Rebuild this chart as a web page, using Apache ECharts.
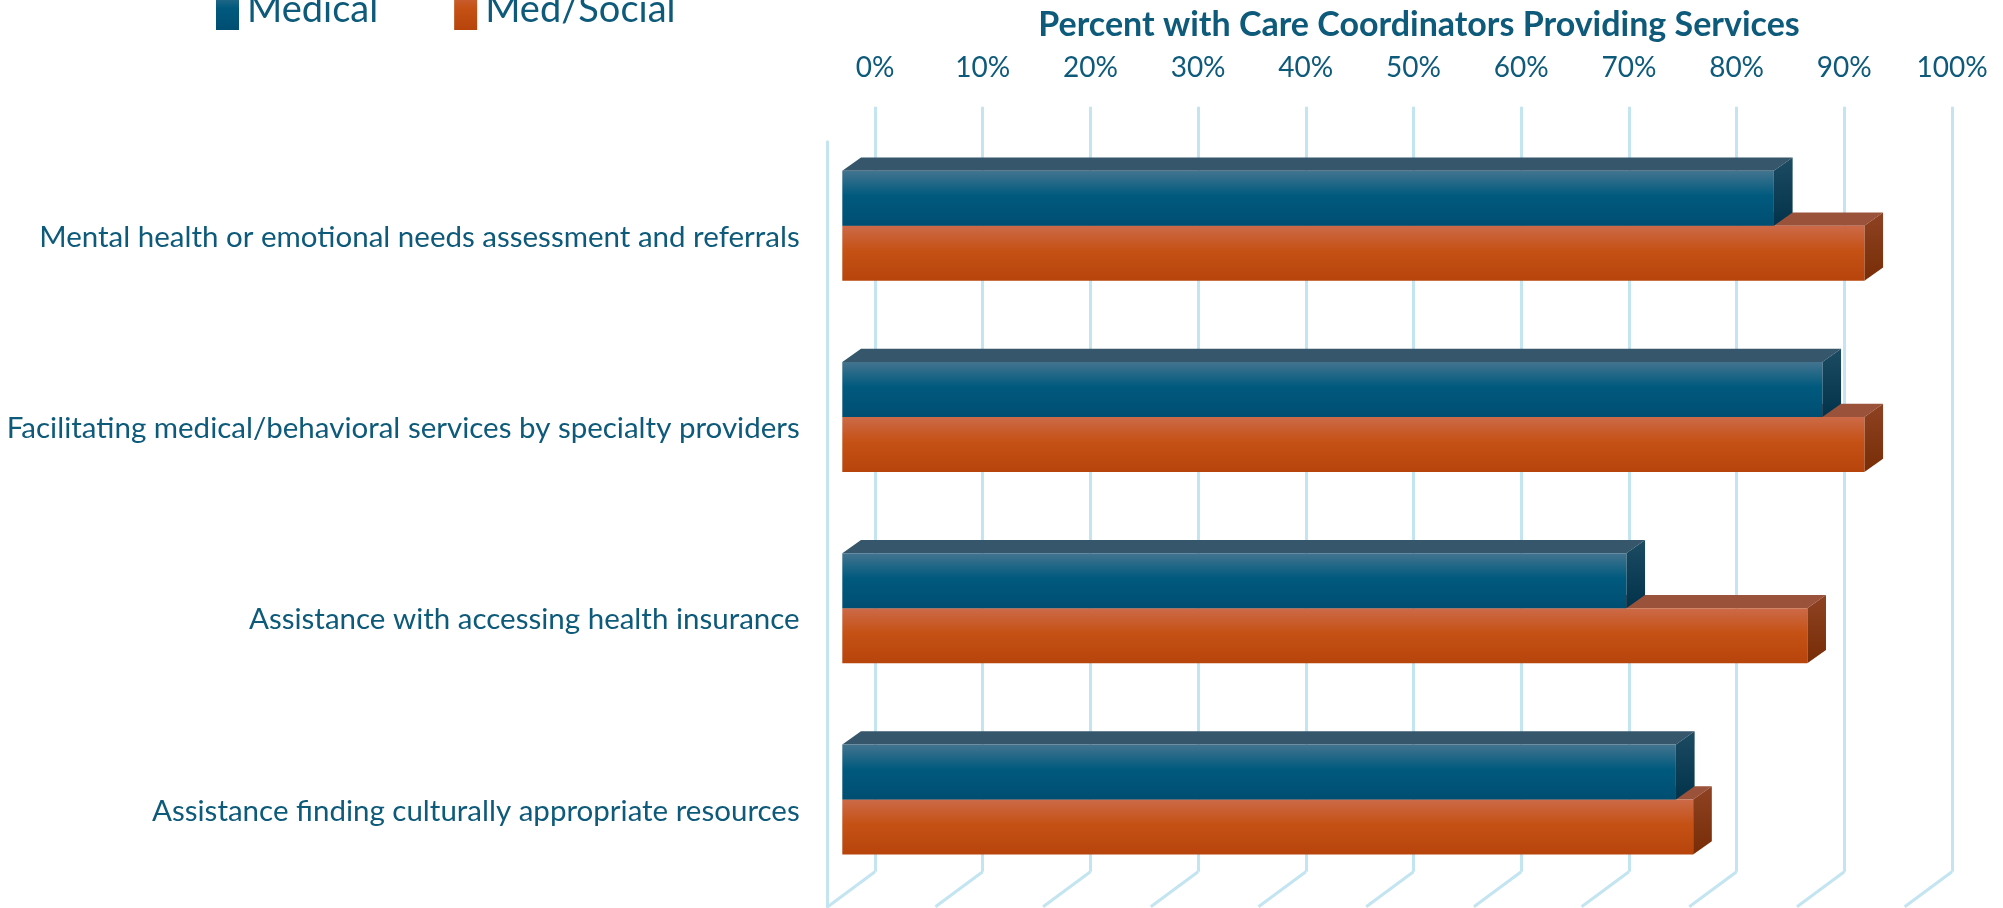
<!DOCTYPE html>
<html>
<head>
<meta charset="utf-8">
<script src="https://cdn.jsdelivr.net/npm/echarts@6/dist/echarts.min.js"></script>
<style>
  html, body { margin: 0; padding: 0; background: #fff; }
  #chart { width: 2003px; height: 908px; }
</style>
</head>
<body>
<div id="chart"></div>
<script>
// data
var categories = [
  'Mental health or emotional needs assessment and referrals',
  'Facilitating medical/behavioral services by specialty providers',
  'Assistance with accessing health insurance',
  'Assistance finding culturally appropriate resources'
];
var medical = [86.5, 91.0, 72.8, 77.4];
var medSocial = [94.9, 94.9, 89.6, 79.0];
var ticks = [0, 10, 20, 30, 40, 50, 60, 70, 80, 90, 100];

// look
var textColor = '#0E5A7A';
var gridColor = '#C3E4F1';
var font = 'Lato';

// 3d offsets (back wall -> front edge, back wall -> bar face, bar depth)
var DX = 47.3, DY = 35;
var BX = 32.7, BY = 23.5;
var BDX = 18.7, BDY = 13.3;
var BAR_SHARE = 0.2876;

var wall = { left: 875, right: 51, top: 106.7, height: 765 };

function grad(stops) {
  return new echarts.graphic.LinearGradient(0, 0, 0, 1, stops.map(function (c) {
    return { offset: c[0], color: c[1] };
  }));
}

var blue = {
  front: [[0, '#43748F'], [0.45, '#005A7E'], [1, '#004E72']],
  top: '#36566B',
  side: [[0, '#1C4B62'], [1, '#02334B']]
};
var orange = {
  front: [[0, '#CC6A48'], [0.45, '#C55115'], [1, '#B7440B']],
  top: '#9B523A',
  side: [[0, '#8E4222'], [1, '#782D07']]
};

function barRenderer(upper, c) {
  return function (params, api) {
    var cat = api.value(1);
    var end = api.coord([api.value(0), cat]);
    var start = api.coord([0, cat]);
    var h = api.size([0, 1])[1] * BAR_SHARE;
    var y = upper ? end[1] - h : end[1];
    var x0 = start[0], x1 = end[0];
    return {
      type: 'group',
      children: [
        { type: 'polygon', shape: { points: [[x0, y], [x0 + BDX, y - BDY], [x1 + BDX, y - BDY], [x1, y]] },
          style: { fill: c.top } },
        { type: 'polygon', shape: { points: [[x1, y], [x1 + BDX, y - BDY], [x1 + BDX, y + h - BDY], [x1, y + h]] },
          style: { fill: grad(c.side) } },
        { type: 'rect', shape: { x: x0, y: y, width: x1 - x0, height: h },
          style: { fill: grad(c.front) } }
      ]
    };
  };
}

var chart = echarts.init(document.getElementById('chart'));
chart.setOption({
  animation: false,
  textStyle: { fontFamily: font },
  title: {
    text: 'Percent with Care Coordinators Providing Services',
    left: 1414, top: 3, textAlign: 'center',
    textStyle: { fontFamily: font, fontWeight: 'bold', fontSize: 34, color: textColor }
  },
  legend: {
    data: ['Medical', 'Med/Social'],
    left: 211, top: -15,
    icon: 'rect', itemWidth: 23, itemHeight: 40, itemGap: 76,
    textStyle: { fontFamily: font, fontSize: 38, color: textColor, padding: [0, 0, 0, 3] }
  },
  grid: [
    { left: wall.left, right: wall.right, top: wall.top, height: wall.height },
    { left: wall.left - BX, right: wall.right + BX, top: wall.top + BY, height: wall.height },
    { left: wall.left - DX, right: wall.right + DX, top: wall.top + DY, height: wall.height }
  ],
  xAxis: [
    { gridIndex: 0, type: 'value', min: 0, max: 100, interval: 10, position: 'top',
      axisLine: { show: false }, axisTick: { show: false },
      axisLabel: { formatter: '{value}%', color: textColor, fontSize: 28, fontFamily: font, margin: 25 },
      splitLine: { lineStyle: { color: gridColor, width: 3 } } },
    { gridIndex: 1, type: 'value', min: 0, max: 100, show: false },
    { gridIndex: 2, type: 'value', min: 0, max: 100, show: false }
  ],
  yAxis: [
    { gridIndex: 0, type: 'value', min: 0, max: 1, show: false },
    { gridIndex: 1, type: 'category', data: categories, inverse: true, show: false },
    { gridIndex: 2, type: 'category', data: categories, inverse: true,
      axisLine: { show: true, lineStyle: { color: gridColor, width: 3 } },
      axisTick: { show: false }, splitLine: { show: false },
      axisLabel: { color: textColor, fontSize: 29.5, fontFamily: font, margin: 28 } }
  ],
  series: [
    {
      name: 'Medical', type: 'custom', xAxisIndex: 1, yAxisIndex: 1, z: 4,
      itemStyle: { color: grad(blue.front) },
      encode: { x: 0, y: 1 },
      renderItem: barRenderer(true, blue),
      data: medical.map(function (v, i) { return [v, i]; })
    },
    {
      name: 'Med/Social', type: 'custom', xAxisIndex: 1, yAxisIndex: 1, z: 3,
      itemStyle: { color: grad(orange.front) },
      encode: { x: 0, y: 1 },
      renderItem: barRenderer(false, orange),
      data: medSocial.map(function (v, i) { return [v, i]; })
    },
    {
      // floor gridlines running from the back wall to the front edge
      type: 'custom', xAxisIndex: 0, yAxisIndex: 0, z: 1, silent: true,
      renderItem: function (params, api) {
        var p = api.coord([api.value(0), 0]);
        return { type: 'line', shape: { x1: p[0], y1: p[1], x2: p[0] - DX, y2: p[1] + DY },
          style: { stroke: gridColor, lineWidth: 3 } };
      },
      data: ticks.map(function (t) { return [t, 0]; })
    }
  ]
});
</script>
</body>
</html>
